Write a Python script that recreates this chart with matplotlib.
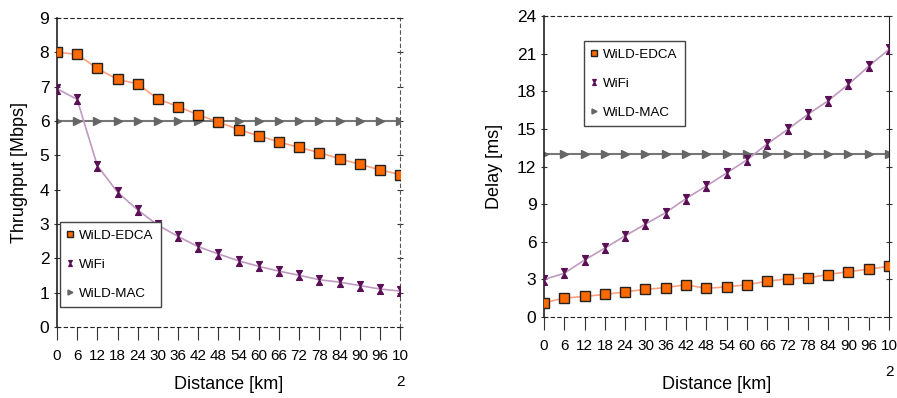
import matplotlib
matplotlib.use("Agg")
import matplotlib.pyplot as plt
from matplotlib.path import Path

plt.rcParams['font.family'] = ['Liberation Sans', 'DejaVu Sans']

distance = list(range(0, 103, 6))
dist_labels = [str(d) for d in distance[:-1]] + ["10\n2"]

# throughput [Mbps]
thr_edca = [8.0, 7.94, 7.53, 7.21, 7.08, 6.64, 6.42, 6.18, 5.97, 5.75,
            5.57, 5.39, 5.23, 5.08, 4.90, 4.74, 4.58, 4.44]
thr_wifi = [6.94, 6.63, 4.70, 3.93, 3.41, 2.97, 2.64, 2.34, 2.13, 1.93,
            1.77, 1.63, 1.51, 1.38, 1.31, 1.21, 1.11, 1.05]
thr_mac = [6.0] * 18

# delay [ms]
del_edca = [1.14, 1.51, 1.64, 1.80, 2.01, 2.20, 2.35, 2.57, 2.28, 2.41,
            2.57, 2.86, 3.04, 3.12, 3.39, 3.62, 3.81, 4.05]
del_wifi = [2.99, 3.49, 4.55, 5.50, 6.48, 7.41, 8.33, 9.45, 10.45, 11.49,
            12.53, 13.81, 14.96, 16.16, 17.25, 18.56, 20.0, 21.35]
del_mac = [13.0] * 18

# hourglass marker like the original
hourglass = Path([(-0.6, 1), (0.6, 1), (-0.6, -1), (0.6, -1), (-0.6, 1)],
                 [Path.MOVETO, Path.LINETO, Path.LINETO, Path.LINETO, Path.CLOSEPOLY])


def draw(ax, edca, wifi, mac, ylim, yticks, ylabel, legend_loc, right_dashed,
         xlab_y, ylab_pad):
    ax.plot(distance, edca, color='#ffa080', lw=1.2, marker='s', ms=7,
            mfc='#ff6a00', mec='#222222', mew=1.0, label='WiLD-EDCA', zorder=3)
    ax.plot(distance, wifi, color='#c09ac0', lw=1.2, marker=hourglass, ms=7,
            mfc='#5a1055', mec='#5a1055', label='WiFi', zorder=3)
    ax.plot(distance, mac, color='#777777', lw=1.5, marker='>', ms=6,
            mfc='#666666', mec='#666666', label='WiLD-MAC', zorder=2)

    ax.set_xlim(0, 102)
    ax.set_ylim(*ylim)
    ax.set_yticks(yticks)
    ax.set_xticks(distance)
    ax.set_xticklabels(dist_labels, fontsize=11, linespacing=2.1)
    ax.tick_params(axis='x', length=9, width=0.8, pad=7, color='#333333')
    ax.tick_params(axis='y', labelsize=12.5, length=5, width=0.8, color='#333333',
                   right=True, direction='inout', pad=3)
    ax.spines['left'].set_color('#222222')
    ax.spines['left'].set_linewidth(1.2)
    for s in ['top', 'bottom']:
        ax.spines[s].set_linestyle((0, (3, 3)))
        ax.spines[s].set_color('#222222')
    if right_dashed:
        ax.spines['right'].set_linestyle((0, (3, 3)))
        ax.spines['right'].set_color('#555555')
    else:
        ax.spines['right'].set_color('#222222')
    for t in ax.xaxis.get_major_ticks():
        t.tick1line.set_linestyle((0, (2, 2)))

    ax.set_xlabel('Distance [km]', fontsize=13)
    ax.xaxis.set_label_coords(0.5, xlab_y)
    ax.set_ylabel(ylabel, fontsize=13, labelpad=ylab_pad)

    leg = ax.legend(loc='upper left', bbox_to_anchor=legend_loc, fontsize=9.6,
                    frameon=True, fancybox=False, edgecolor='#444444',
                    framealpha=1, handlelength=0.45, handletextpad=0.45,
                    labelspacing=1.25, borderpad=0.55, borderaxespad=0,
                    markerscale=0.6)
    for h in leg.legend_handles:
        h.set_linestyle('none')
    leg.get_frame().set_linewidth(1.0)


fig = plt.figure(figsize=(8.97, 3.98), dpi=100)
ax1 = fig.add_axes([0.0635, 0.178, 0.3825, 0.777])
ax2 = fig.add_axes([0.6065, 0.2035, 0.3846, 0.756])

draw(ax1, thr_edca, thr_wifi, thr_mac, (0, 9), range(0, 10),
     'Thrughput [Mbps]', (0.009, 0.34), True, -0.158, 8)
draw(ax2, del_edca, del_wifi, del_mac, (0, 24), range(0, 25, 3),
     'Delay [ms]', (0.116, 0.917), False, -0.195, 10)

fig.savefig('out.png', dpi=100)
